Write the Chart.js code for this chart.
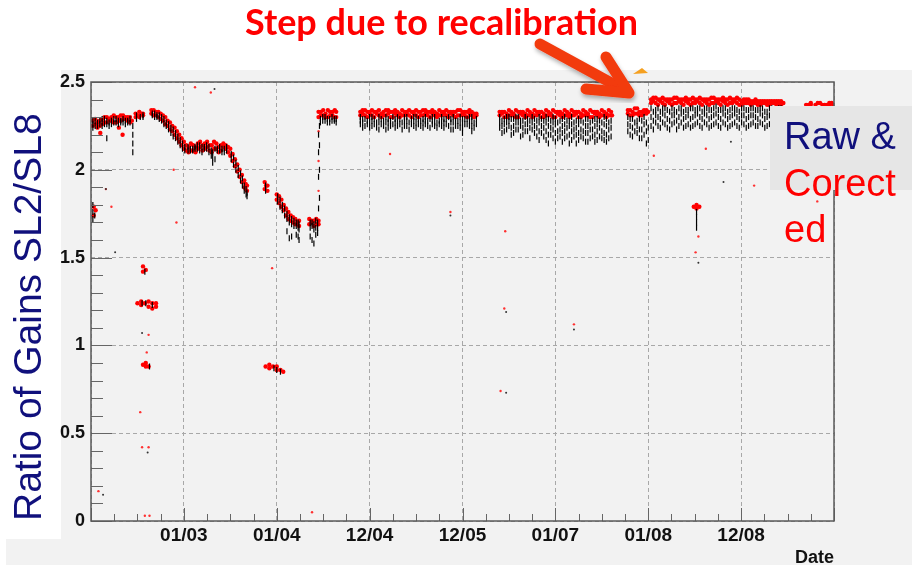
<!DOCTYPE html>
<html>
<head>
<meta charset="utf-8">
<script src="https://cdn.jsdelivr.net/npm/chart.js@4.4.1/dist/chart.umd.min.js"></script>
<style>
  body { margin: 0; background: #fff; }
  #wrap { position: relative; width: 912px; height: 565px; overflow: hidden; background: #fff; }
  .pad { position: absolute; left: 6px; top: 70px; width: 906px; height: 495px; background: #f2f2f2; }
  .ybox { position: absolute; left: 0; top: 70px; width: 61px; height: 469px; background: #fff; }
  #chart { position: absolute; left: 0; top: 0; }
  .legend-box { position: absolute; left: 770px; top: 106px; width: 142px; height: 84px; background: #e6e6e6; }
  .legend-text { position: absolute; left: 784px; top: 113px; font: 38px "Liberation Sans", Arial, sans-serif; line-height: 46.5px; white-space: nowrap; }
  .legend-text .raw { color: #10107c; }
  .legend-text .cor { color: #ff0000; }
  #title { position: absolute; left: 245px; top: 6px; font-family: Lato, "Open Sans", sans-serif; font-weight: 700; font-size: 32px; line-height: 32px; color: #ff0000; white-space: nowrap; }
  svg { position: absolute; left: 0; top: 0; pointer-events: none; }
</style>
</head>
<body>
<div id="wrap">
  <div class="pad"></div>
  <div class="ybox"></div>
  <canvas id="chart" width="912" height="565"></canvas>
  <div class="legend-box"></div>
  <div class="legend-text"><span class="raw">Raw &amp;</span><br><span class="cor">Corect</span><br><span class="cor">ed</span></div>
  <div id="title">Step due to recalibration</div>
  <svg width="912" height="565">
    <defs>
      <filter id="shadow" x="-20%" y="-20%" width="140%" height="140%">
        <feDropShadow dx="1" dy="3" stdDeviation="2" flood-color="#000" flood-opacity="0.3"/>
      </filter>
    </defs>
    <g filter="url(#shadow)" stroke="#f23a10" stroke-width="11" stroke-linecap="round" stroke-linejoin="round" fill="none">
      <line x1="540" y1="44" x2="626" y2="91"/>
      <polyline points="606,57 629,93 586,89"/>
    </g>
    <polygon points="633,74 642,68 648,73" fill="#f5a020"/>
  </svg>
</div>

<script>
// x axis is in "label slots": 0 = left edge, 8 = right edge
const xTickLabels = ["01/03", "01/04", "12/04", "12/05", "01/07", "01/08", "12/08"];
const xTickPositions = [1, 2, 3, 4, 5, 6, 7];

// corrected gains (red), each row is [x, y, y, ...]
const correctedRows = [
  [0.03, 1.74, 1.79], [0.05, 1.77],
  [0.02, 2.25, 2.28], [0.07, 2.24, 2.27], [0.12, 2.26, 2.29], [0.17, 2.27, 2.30],
  [0.22, 2.28, 2.30], [0.27, 2.27, 2.30], [0.32, 2.28, 2.31], [0.37, 2.29, 2.30],
  [0.42, 2.27, 2.30], [0.10, 2.21], [0.30, 2.24], [0.34, 2.20],
  [0.045, 2.26, 2.29], [0.095, 2.25, 2.28], [0.145, 2.27, 2.30], [0.195, 2.28, 2.29],
  [0.245, 2.27, 2.31], [0.295, 2.28, 2.30], [0.345, 2.29, 2.31], [0.395, 2.28, 2.30], [0.44, 2.28],
  [0.48, 2.30, 2.32], [0.52, 2.30, 2.33], [0.56, 2.31, 2.32], [0.50, 2.31], [0.54, 2.32],
  // slow drift down
  [0.65, 2.32, 2.34], [0.70, 2.31, 2.33], [0.75, 2.29, 2.32], [0.80, 2.26, 2.30],
  [0.85, 2.23, 2.27], [0.90, 2.20, 2.24], [0.95, 2.16, 2.20], [1.00, 2.12, 2.16],
  [0.675, 2.31, 2.34], [0.725, 2.30, 2.33], [0.775, 2.28, 2.31], [0.825, 2.25, 2.28],
  [0.875, 2.22, 2.25], [0.925, 2.18, 2.22], [0.975, 2.14, 2.18], [1.025, 2.11, 2.14],
  [1.05, 2.10, 2.13], [1.10, 2.11, 2.14], [1.15, 2.12, 2.15], [1.20, 2.11, 2.14],
  [1.25, 2.13, 2.16], [1.30, 2.10, 2.14], [1.35, 2.12, 2.15], [1.40, 2.11, 2.14],
  [1.45, 2.12, 2.14],
  [1.075, 2.11, 2.15], [1.125, 2.10, 2.13], [1.175, 2.13, 2.16], [1.225, 2.12, 2.15],
  [1.275, 2.11, 2.14], [1.325, 2.12, 2.16], [1.375, 2.10, 2.13], [1.425, 2.13, 2.15], [1.475, 2.10, 2.13],
  [1.50, 2.08, 2.12], [1.55, 2.02, 2.06], [1.60, 1.96, 2.00], [1.65, 1.90, 1.94], [1.68, 1.88, 1.91],
  [1.525, 2.05, 2.09], [1.575, 1.99, 2.03], [1.625, 1.93, 1.97], [1.665, 1.89, 1.92],
  [1.87, 1.89, 1.93], [1.90, 1.88, 1.91], [1.885, 1.91],
  [2.00, 1.83, 1.86], [2.05, 1.79, 1.83], [2.10, 1.74, 1.78], [2.15, 1.71, 1.74],
  [2.20, 1.69, 1.72], [2.24, 1.68, 1.71],
  [2.025, 1.81, 1.85], [2.075, 1.77, 1.80], [2.125, 1.72, 1.76], [2.175, 1.70, 1.73], [2.22, 1.70],
  [2.35, 1.69, 1.72], [2.40, 1.68, 1.71], [2.45, 1.69, 1.71], [2.375, 1.70, 1.71], [2.425, 1.69, 1.72],
  [2.45, 2.30, 2.33], [2.50, 2.31, 2.34], [2.55, 2.30, 2.34], [2.60, 2.31, 2.33], [2.64, 2.30, 2.33],
  [2.475, 2.31, 2.33], [2.525, 2.30, 2.32], [2.575, 2.31, 2.33], [2.625, 2.30, 2.34],
  // 12/04 block
  [2.90, 2.31, 2.33], [2.95, 2.31, 2.34], [3.00, 2.32, 2.33], [3.05, 2.30, 2.33], [3.10, 2.31, 2.34],
  [3.15, 2.31, 2.33], [3.20, 2.32, 2.34], [3.25, 2.30, 2.33], [3.30, 2.31, 2.33], [3.35, 2.31, 2.34],
  [3.40, 2.32, 2.33], [3.45, 2.30, 2.33], [3.50, 2.31, 2.34], [3.55, 2.31, 2.33], [3.60, 2.32, 2.34],
  [3.65, 2.30, 2.33], [3.70, 2.31, 2.33], [3.75, 2.31, 2.34], [3.80, 2.32, 2.33], [3.85, 2.30, 2.33],
  [3.90, 2.31, 2.33], [3.95, 2.31, 2.34], [4.00, 2.32, 2.33], [4.05, 2.30, 2.33], [4.10, 2.31, 2.33],
  [4.15, 2.31, 2.32],
  [2.925, 2.32, 2.34], [2.975, 2.30, 2.33], [3.025, 2.31, 2.34], [3.075, 2.32, 2.33], [3.125, 2.30, 2.32],
  [3.175, 2.31, 2.34], [3.225, 2.30, 2.33], [3.275, 2.32, 2.34], [3.325, 2.30, 2.32], [3.375, 2.31, 2.33],
  [3.425, 2.31, 2.34], [3.475, 2.32, 2.33], [3.525, 2.30, 2.33], [3.575, 2.31, 2.34], [3.625, 2.31, 2.33],
  [3.675, 2.32, 2.34], [3.725, 2.30, 2.32], [3.775, 2.31, 2.33], [3.825, 2.31, 2.34], [3.875, 2.32, 2.33],
  [3.925, 2.30, 2.33], [3.975, 2.31, 2.34], [4.025, 2.31, 2.33], [4.075, 2.32, 2.34], [4.125, 2.30, 2.32],
  // 01/07 block
  [4.40, 2.31, 2.33], [4.45, 2.30, 2.33], [4.50, 2.31, 2.34], [4.55, 2.31, 2.32], [4.60, 2.30, 2.33],
  [4.65, 2.31, 2.33], [4.70, 2.31, 2.34], [4.75, 2.30, 2.32], [4.80, 2.31, 2.33], [4.85, 2.30, 2.33],
  [4.90, 2.31, 2.34], [4.95, 2.31, 2.32], [5.00, 2.30, 2.33], [5.05, 2.31, 2.33], [5.10, 2.31, 2.34],
  [5.15, 2.30, 2.32], [5.20, 2.31, 2.33], [5.25, 2.30, 2.33], [5.30, 2.31, 2.34], [5.35, 2.31, 2.32],
  [5.40, 2.30, 2.33], [5.45, 2.31, 2.33], [5.50, 2.31, 2.34], [5.55, 2.30, 2.32], [5.60, 2.31, 2.33],
  [4.425, 2.32, 2.33], [4.475, 2.30, 2.32], [4.525, 2.31, 2.33], [4.575, 2.30, 2.34], [4.625, 2.32, 2.33],
  [4.675, 2.30, 2.32], [4.725, 2.31, 2.33], [4.775, 2.31, 2.34], [4.825, 2.32, 2.33], [4.875, 2.30, 2.32],
  [4.925, 2.31, 2.33], [4.975, 2.30, 2.34], [5.025, 2.32, 2.33], [5.075, 2.30, 2.32], [5.125, 2.31, 2.33],
  [5.175, 2.31, 2.34], [5.225, 2.32, 2.33], [5.275, 2.30, 2.32], [5.325, 2.31, 2.33], [5.375, 2.30, 2.34],
  [5.425, 2.32, 2.33], [5.475, 2.30, 2.32], [5.525, 2.31, 2.33], [5.575, 2.31, 2.34], [5.61, 2.31],
  // before the step
  [5.78, 2.32, 2.34], [5.83, 2.31, 2.33], [5.88, 2.32, 2.35], [5.93, 2.31, 2.33], [5.98, 2.32, 2.34],
  [5.805, 2.31, 2.34], [5.855, 2.32, 2.35], [5.905, 2.31, 2.33], [5.955, 2.32, 2.34], [6.00, 2.33],
  // after recalibration step
  [6.03, 2.38, 2.40], [6.08, 2.38, 2.41], [6.13, 2.39, 2.40], [6.18, 2.37, 2.40], [6.23, 2.38, 2.40],
  [6.28, 2.38, 2.41], [6.33, 2.39, 2.40], [6.38, 2.37, 2.40], [6.43, 2.38, 2.40], [6.48, 2.38, 2.41],
  [6.53, 2.39, 2.40], [6.58, 2.37, 2.40], [6.63, 2.38, 2.40], [6.68, 2.38, 2.41], [6.73, 2.39, 2.40],
  [6.78, 2.37, 2.40], [6.83, 2.38, 2.40], [6.88, 2.38, 2.41], [6.93, 2.39, 2.40], [6.98, 2.37, 2.40],
  [7.03, 2.38, 2.40], [7.08, 2.38, 2.40], [7.13, 2.38, 2.39], [7.18, 2.37, 2.39], [7.23, 2.38, 2.39],
  [7.28, 2.37, 2.39], [7.33, 2.38, 2.39], [7.38, 2.37, 2.39], [7.43, 2.37, 2.39],
  [6.055, 2.39, 2.41], [6.105, 2.37, 2.40], [6.155, 2.38, 2.41], [6.205, 2.39, 2.40], [6.255, 2.37, 2.40],
  [6.305, 2.38, 2.41], [6.355, 2.38, 2.40], [6.405, 2.39, 2.41], [6.455, 2.37, 2.40], [6.505, 2.38, 2.40],
  [6.555, 2.38, 2.41], [6.605, 2.39, 2.40], [6.655, 2.37, 2.40], [6.705, 2.38, 2.41], [6.755, 2.38, 2.40],
  [6.805, 2.39, 2.41], [6.855, 2.37, 2.40], [6.905, 2.38, 2.40], [6.955, 2.38, 2.41], [7.005, 2.37, 2.39],
  [7.055, 2.38, 2.40], [7.105, 2.37, 2.39], [7.155, 2.38, 2.40], [7.205, 2.37, 2.39], [7.255, 2.38, 2.39],
  [7.305, 2.37, 2.39], [7.355, 2.38, 2.39], [7.405, 2.37, 2.39], [7.455, 2.38],
  [7.70, 2.37], [7.75, 2.37, 2.38], [7.80, 2.37], [7.85, 2.38], [7.90, 2.37], [7.95, 2.37, 2.38], [7.99, 2.37],
  [7.725, 2.37], [7.825, 2.38], [7.875, 2.37], [7.925, 2.37], [7.975, 2.38],
  // isolated clusters
  [0.56, 1.42, 1.45], [0.59, 1.43],
  [0.50, 1.24], [0.54, 1.23, 1.25], [0.58, 1.24], [0.62, 1.22, 1.25], [0.66, 1.21, 1.24], [0.70, 1.22, 1.24],
  [0.56, 0.89], [0.59, 0.88, 0.90], [0.62, 0.88],
  [1.88, 0.88], [1.92, 0.87, 0.89], [1.96, 0.88], [2.00, 0.86, 0.88], [2.04, 0.86], [2.07, 0.85],
  [6.49, 1.79], [6.52, 1.78, 1.80], [6.55, 1.79]
];

// single scattered corrected points
const correctedStray = [
  [2.45, 1.88, 2.05, 2.22],
  [1.12, 2.47], [1.29, 2.44], [0.89, 2.00], [0.16, 1.89], [0.22, 1.79], [0.92, 1.70], [1.95, 1.44],
  [0.58, 0.03], [0.63, 0.03], [0.08, 0.17], [0.53, 0.62], [0.55, 0.42], [0.62, 0.42], [0.60, 0.96],
  [0.62, 1.06], [2.38, 0.05], [4.41, 0.74], [4.45, 1.21], [5.20, 1.12], [6.62, 2.12], [6.06, 2.08],
  [7.14, 1.91], [6.51, 1.53], [6.54, 1.62], [4.46, 1.65], [7.82, 1.82], [3.22, 2.09], [3.87, 1.76]
];

// raw gains (black)
const rawRows = [
  [0.02, 1.72, 1.76, 1.80], [0.04, 1.74],
  [0.02, 2.24, 2.26, 2.28], [0.07, 2.25, 2.27], [0.12, 2.25, 2.27, 2.29], [0.17, 2.26, 2.28, 2.18],
  [0.22, 2.26, 2.28], [0.27, 2.27, 2.29], [0.32, 2.27, 2.28], [0.37, 2.26, 2.28],
  [0.42, 2.27, 2.29], [0.45, 2.10, 2.15, 2.20, 2.25],
  [0.045, 2.25, 2.28], [0.095, 2.26, 2.28], [0.145, 2.26, 2.29], [0.195, 2.25, 2.27],
  [0.245, 2.27, 2.29], [0.295, 2.26, 2.28], [0.345, 2.27, 2.29], [0.395, 2.27, 2.28],
  [0.49, 2.29, 2.31], [0.53, 2.30], [0.56, 2.30, 2.31],
  [0.66, 2.31, 2.32], [0.71, 2.30, 2.31], [0.76, 2.28, 2.30], [0.81, 2.25, 2.27],
  [0.86, 2.21, 2.24], [0.91, 2.18, 2.21], [0.96, 2.14, 2.17], [1.01, 2.11, 2.13],
  [0.685, 2.30, 2.32], [0.735, 2.29, 2.31], [0.785, 2.26, 2.29], [0.835, 2.23, 2.26],
  [0.885, 2.19, 2.23], [0.935, 2.16, 2.19], [0.985, 2.12, 2.15],
  [1.07, 2.11, 2.12], [1.12, 2.12, 2.13], [1.17, 2.11, 2.14], [1.22, 2.12, 2.13],
  [1.27, 2.10, 2.13], [1.31, 2.04, 2.07, 2.10], [1.36, 2.11, 2.12], [1.41, 2.10, 2.12],
  [1.46, 2.11, 2.13],
  [1.045, 2.11, 2.13], [1.095, 2.11, 2.12], [1.145, 2.12, 2.14], [1.195, 2.10, 2.13],
  [1.245, 2.12, 2.14], [1.295, 2.08, 2.11], [1.335, 2.06, 2.12], [1.385, 2.11, 2.13], [1.435, 2.10, 2.12],
  [1.51, 2.06, 2.09], [1.56, 2.00, 2.04], [1.61, 1.94, 1.98], [1.65, 1.88, 1.91], [1.68, 1.85, 1.87],
  [1.535, 2.03, 2.07], [1.585, 1.97, 2.01], [1.63, 1.91, 1.95], [1.67, 1.86, 1.89],
  [1.88, 1.88, 1.91],
  [2.01, 1.82, 1.85], [2.06, 1.77, 1.80], [2.11, 1.72, 1.75, 1.65], [2.16, 1.69, 1.72, 1.62],
  [2.21, 1.68, 1.70, 1.63], [2.24, 1.66, 1.69, 1.60],
  [2.035, 1.79, 1.83], [2.085, 1.74, 1.78], [2.135, 1.70, 1.73, 1.61], [2.185, 1.68, 1.71],
  [2.23, 1.67, 1.70, 1.62],
  [2.36, 1.67, 1.70, 1.62], [2.40, 1.66, 1.69, 1.58], [2.44, 1.67, 1.70, 1.64],
  [2.38, 1.68, 1.70, 1.60], [2.42, 1.67, 1.71, 1.63],
  [2.45, 1.78, 1.96, 2.10, 2.20], [2.46, 1.84, 2.00, 2.14, 2.25],
  [2.47, 2.27, 2.29], [2.52, 2.28, 2.30], [2.57, 2.27, 2.29], [2.62, 2.28, 2.29],
  [2.495, 2.28, 2.30], [2.545, 2.27, 2.29], [2.595, 2.28, 2.30], [2.64, 2.27, 2.29],
  // 12/04 block
  [2.90, 2.26, 2.28, 2.30], [2.95, 2.25, 2.29], [3.00, 2.24, 2.27, 2.30], [3.05, 2.26, 2.29],
  [3.10, 2.23, 2.27, 2.30], [3.15, 2.25, 2.28], [3.20, 2.24, 2.27, 2.29], [3.25, 2.26, 2.30],
  [3.30, 2.25, 2.28, 2.30], [3.35, 2.23, 2.27], [3.40, 2.25, 2.28, 2.30], [3.45, 2.26, 2.29],
  [3.50, 2.24, 2.27, 2.30], [3.55, 2.25, 2.28], [3.60, 2.26, 2.28, 2.30], [3.65, 2.24, 2.29],
  [3.70, 2.25, 2.27, 2.30], [3.75, 2.26, 2.28], [3.80, 2.24, 2.27, 2.29], [3.85, 2.25, 2.30],
  [3.90, 2.23, 2.27, 2.30], [3.95, 2.25, 2.28], [4.00, 2.21, 2.24, 2.27, 2.29], [4.05, 2.26, 2.29],
  [4.10, 2.22, 2.25, 2.28, 2.30], [4.15, 2.26, 2.29],
  [2.925, 2.24, 2.27, 2.29], [2.975, 2.26, 2.28], [3.025, 2.25, 2.28, 2.30], [3.075, 2.24, 2.27],
  [3.125, 2.26, 2.29], [3.175, 2.23, 2.27, 2.30], [3.225, 2.25, 2.28], [3.275, 2.24, 2.27, 2.29],
  [3.325, 2.26, 2.29], [3.375, 2.25, 2.28, 2.30], [3.425, 2.23, 2.27], [3.475, 2.25, 2.28, 2.30],
  [3.525, 2.26, 2.29], [3.575, 2.24, 2.27, 2.29], [3.625, 2.25, 2.28], [3.675, 2.26, 2.28, 2.30],
  [3.725, 2.24, 2.27], [3.775, 2.25, 2.28, 2.30], [3.825, 2.26, 2.29], [3.875, 2.23, 2.27, 2.29],
  [3.925, 2.25, 2.28], [3.975, 2.24, 2.27, 2.30], [4.025, 2.26, 2.29], [4.075, 2.25, 2.28, 2.30],
  [4.125, 2.24, 2.27],
  // 01/07 block
  [4.40, 2.24, 2.27, 2.30], [4.45, 2.22, 2.26, 2.29], [4.50, 2.25, 2.28, 2.30], [4.55, 2.21, 2.25, 2.29],
  [4.60, 2.23, 2.27, 2.30], [4.65, 2.20, 2.24, 2.28], [4.70, 2.22, 2.26, 2.29], [4.75, 2.23, 2.27, 2.30],
  [4.80, 2.19, 2.24, 2.28], [4.85, 2.21, 2.25, 2.29], [4.90, 2.17, 2.22, 2.27, 2.30], [4.95, 2.20, 2.24, 2.28],
  [5.00, 2.16, 2.21, 2.26, 2.29], [5.05, 2.19, 2.23, 2.28], [5.10, 2.18, 2.22, 2.26, 2.30],
  [5.15, 2.15, 2.20, 2.25, 2.28], [5.20, 2.19, 2.23, 2.27], [5.25, 2.17, 2.21, 2.26, 2.29],
  [5.30, 2.18, 2.22, 2.27], [5.35, 2.16, 2.21, 2.25, 2.29], [5.40, 2.19, 2.23, 2.28],
  [5.45, 2.17, 2.22, 2.26, 2.29], [5.50, 2.18, 2.22, 2.27], [5.55, 2.16, 2.20, 2.25, 2.29],
  [5.60, 2.19, 2.24, 2.28],
  [4.425, 2.21, 2.25, 2.28], [4.475, 2.23, 2.27, 2.30], [4.525, 2.20, 2.24, 2.29], [4.575, 2.23, 2.27, 2.30],
  [4.625, 2.19, 2.25, 2.28], [4.675, 2.22, 2.26, 2.30], [4.725, 2.18, 2.24, 2.28], [4.775, 2.21, 2.25, 2.29],
  [4.825, 2.17, 2.22, 2.27, 2.30], [4.875, 2.19, 2.24, 2.28], [4.925, 2.15, 2.20, 2.25, 2.29],
  [4.975, 2.18, 2.23, 2.27, 2.30], [5.025, 2.18, 2.22, 2.27], [5.075, 2.16, 2.21, 2.25, 2.29],
  [5.125, 2.19, 2.24, 2.28], [5.175, 2.17, 2.22, 2.26, 2.30], [5.225, 2.15, 2.20, 2.24, 2.28],
  [5.275, 2.19, 2.23, 2.28], [5.325, 2.16, 2.21, 2.25, 2.29], [5.375, 2.18, 2.23, 2.27],
  [5.425, 2.16, 2.20, 2.25, 2.29], [5.475, 2.19, 2.24, 2.28], [5.525, 2.17, 2.21, 2.26, 2.30],
  [5.575, 2.18, 2.23, 2.27],
  [5.78, 2.22, 2.26, 2.30], [5.83, 2.19, 2.24, 2.29], [5.88, 2.21, 2.25, 2.28], [5.93, 2.18, 2.23, 2.28],
  [5.98, 2.15, 2.22, 2.27],
  [5.805, 2.20, 2.25, 2.29], [5.855, 2.22, 2.27], [5.905, 2.18, 2.23, 2.29], [5.955, 2.20, 2.26, 2.30],
  [6.00, 2.17, 2.24],
  // after recalibration step
  [6.03, 2.25, 2.30, 2.35], [6.08, 2.27, 2.31, 2.34], [6.13, 2.24, 2.29, 2.33], [6.18, 2.26, 2.31, 2.35],
  [6.23, 2.23, 2.28, 2.33], [6.28, 2.27, 2.31, 2.34], [6.33, 2.25, 2.30, 2.35], [6.38, 2.24, 2.29, 2.33],
  [6.43, 2.26, 2.31, 2.34], [6.48, 2.25, 2.30, 2.35], [6.53, 2.27, 2.32, 2.35], [6.58, 2.24, 2.29, 2.33],
  [6.63, 2.26, 2.31, 2.35], [6.68, 2.25, 2.30, 2.34], [6.73, 2.27, 2.32, 2.36], [6.78, 2.24, 2.29, 2.34],
  [6.83, 2.26, 2.31, 2.35], [6.88, 2.25, 2.30, 2.34], [6.93, 2.27, 2.32, 2.35], [6.98, 2.24, 2.29, 2.33],
  [7.03, 2.26, 2.31, 2.35], [7.08, 2.25, 2.30, 2.34], [7.13, 2.27, 2.31, 2.35], [7.18, 2.25, 2.29, 2.34],
  [7.23, 2.26, 2.31, 2.35], [7.28, 2.25, 2.30, 2.33], [7.33, 2.27, 2.31, 2.35], [7.38, 2.25, 2.30, 2.34],
  [7.43, 2.27, 2.31, 2.35],
  [6.055, 2.23, 2.28, 2.33], [6.105, 2.25, 2.30, 2.35], [6.155, 2.27, 2.32, 2.35], [6.205, 2.24, 2.29, 2.34],
  [6.255, 2.26, 2.31, 2.35], [6.305, 2.23, 2.28, 2.33], [6.355, 2.27, 2.32, 2.35], [6.405, 2.25, 2.30, 2.34],
  [6.455, 2.24, 2.29, 2.35], [6.505, 2.26, 2.31, 2.34], [6.555, 2.25, 2.30, 2.35], [6.605, 2.27, 2.32, 2.35],
  [6.655, 2.24, 2.29, 2.34], [6.705, 2.26, 2.31, 2.35], [6.755, 2.25, 2.30, 2.34], [6.805, 2.27, 2.32, 2.35],
  [6.855, 2.24, 2.29, 2.33], [6.905, 2.26, 2.31, 2.35], [6.955, 2.25, 2.30, 2.34], [7.005, 2.27, 2.31, 2.35],
  [7.055, 2.24, 2.29, 2.34], [7.105, 2.26, 2.31, 2.35], [7.155, 2.25, 2.30, 2.34], [7.205, 2.27, 2.32, 2.35],
  [7.255, 2.24, 2.29, 2.33], [7.305, 2.26, 2.31, 2.35], [7.355, 2.25, 2.30, 2.34], [7.405, 2.27, 2.31, 2.35],
  [7.455, 2.25, 2.30],
  // isolated clusters
  [0.58, 1.42], [0.55, 1.24], [0.59, 1.24], [0.66, 1.23], [0.63, 0.88],
  [1.97, 0.87], [2.00, 0.86], [2.04, 0.85],
  [6.52, 1.67, 1.70, 1.73, 1.76]
];

// single scattered raw points
const rawStray = [
  [6.54, 1.47], [0.16, 1.89], [0.26, 1.53], [1.33, 2.46], [0.55, 1.07], [0.61, 0.39], [0.13, 0.15],
  [4.47, 0.73], [4.47, 1.19], [5.20, 1.09], [6.81, 1.93], [6.89, 2.16], [3.87, 1.74]
];

function toPoints(rows) {
  return rows.flatMap(([x, ...ys]) => ys.map((y) => ({ x: x, y: y })));
}

// title width is fitted to the reference
const title = document.getElementById("title");
const titleWidth = title.getBoundingClientRect().width;
title.style.fontSize = (32 * 393 / titleWidth) + "px";

// ROOT style frame with ticks drawn inside the plot
const rootFrame = {
  id: "rootFrame",
  afterDraw(chart) {
    const { ctx, chartArea: a, scales } = chart;
    ctx.save();
    ctx.strokeStyle = "#666";
    ctx.lineWidth = 1;
    ctx.beginPath();
    for (let i = 0; i <= 25; i++) {
      const py = Math.round(scales.y.getPixelForValue(i / 10)) + 0.5;
      const len = i % 5 === 0 ? 21 : 12;
      ctx.moveTo(a.left, py);
      ctx.lineTo(a.left + len, py);
    }
    for (let i = 0; i <= 32; i++) {
      const px = Math.round(scales.x.getPixelForValue(i / 4)) + 0.5;
      const len = i % 4 === 0 ? 13 : 7;
      ctx.moveTo(px, a.bottom);
      ctx.lineTo(px, a.bottom - len);
    }
    ctx.stroke();
    ctx.lineWidth = 1.5;
    ctx.strokeStyle = "#5a5a5a";
    ctx.strokeRect(a.left, a.top, a.right - a.left, a.bottom - a.top);
    // axis title on the x axis, bottom right
    ctx.fillStyle = "#111";
    ctx.font = "bold 18px 'Liberation Sans', Arial, sans-serif";
    ctx.textAlign = "right";
    ctx.textBaseline = "alphabetic";
    ctx.fillText("Date", a.right, 563);
    ctx.restore();
  }
};

const chart = new Chart(document.getElementById("chart"), {
  type: "scatter",
  data: {
    datasets: [
      {
        label: "Raw",
        data: toPoints(rawRows),
        pointStyle: "line",
        rotation: 90,
        pointRadius: 3,
        borderWidth: 1.2,
        borderColor: "#000",
        backgroundColor: "#000",
        order: 0
      },
      {
        label: "Raw (scattered)",
        data: toPoints(rawStray),
        backgroundColor: "#333",
        pointRadius: 1,
        borderWidth: 0,
        order: 1
      },
      {
        label: "Corected",
        data: toPoints(correctedRows),
        backgroundColor: "#ff0000",
        pointRadius: 2.2,
        borderWidth: 0,
        order: 2
      },
      {
        label: "Corected (scattered)",
        data: toPoints(correctedStray),
        backgroundColor: "#ff3030",
        pointRadius: 1.2,
        borderWidth: 0,
        order: 3
      }
    ]
  },
  options: {
    responsive: false,
    animation: false,
    devicePixelRatio: 1,
    layout: { padding: { left: 0, top: 82, right: 78, bottom: 0 } },
    plugins: {
      legend: { display: false },
      tooltip: { enabled: false }
    },
    scales: {
      x: {
        type: "linear",
        min: 0,
        max: 8,
        afterFit: (scale) => { scale.height = 44; },
        afterBuildTicks: (scale) => {
          scale.ticks = [0, ...xTickPositions, 8].map((v) => ({ value: v }));
        },
        ticks: {
          padding: 3,
          color: "#111",
          font: { family: "'Liberation Sans', Arial, sans-serif", size: 19, weight: "bold" },
          maxRotation: 0,
          autoSkip: false,
          callback: (value) => {
            const i = xTickPositions.indexOf(value);
            return i >= 0 ? xTickLabels[i] : "";
          }
        },
        grid: { color: "#a8a8a8", lineWidth: 1, drawTicks: false },
        border: { display: false, dash: [4, 3] }
      },
      y: {
        type: "linear",
        min: 0,
        max: 2.5,
        afterFit: (scale) => { scale.width = 91; },
        ticks: {
          stepSize: 0.5,
          padding: 6,
          color: "#111",
          font: { family: "'Liberation Sans', Arial, sans-serif", size: 18, weight: "bold" },
          callback: (value) => String(value)
        },
        grid: { color: "#a8a8a8", lineWidth: 1, drawTicks: false },
        border: { display: false, dash: [4, 3] },
        title: {
          display: true,
          text: "Ratio of Gains SL2/SL8",
          align: "start",
          color: "#10107c",
          padding: { top: 7, bottom: 0 },
          font: { family: "'Liberation Sans', Arial, sans-serif", size: 39, weight: "normal" }
        }
      }
    }
  },
  plugins: [rootFrame]
});
</script>
</body>
</html>
